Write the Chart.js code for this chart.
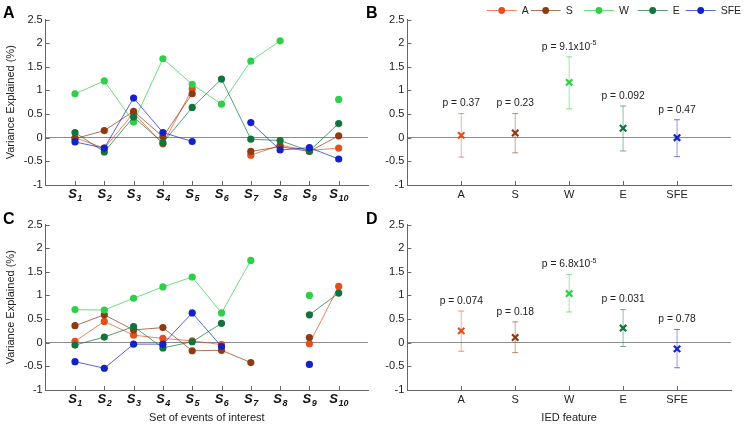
<!DOCTYPE html>
<html>
<head>
<meta charset="utf-8">
<script src="https://cdn.jsdelivr.net/npm/chart.js@4.4.0/dist/chart.umd.min.js"></script>
<style>
body{margin:0;background:#fff;width:744px;height:424px;position:relative;overflow:hidden;font-family:"Liberation Sans",Arial,sans-serif}
canvas{position:absolute}
.tag{position:absolute;font-weight:bold;font-size:16px;line-height:16px;color:#000}
</style>
</head>
<body>
<canvas id="pA" width="372" height="205" style="left:0;top:0"></canvas>
<canvas id="pB" width="372" height="205" style="left:372px;top:0"></canvas>
<canvas id="pC" width="372" height="219" style="left:0;top:205px"></canvas>
<canvas id="pD" width="372" height="219" style="left:372px;top:205px"></canvas>
<div class="tag" style="left:3px;top:5px">A</div>
<div class="tag" style="left:366px;top:5px">B</div>
<div class="tag" style="left:3px;top:211px">C</div>
<div class="tag" style="left:366px;top:211px">D</div>
<script>
/* data */
const features = ["A","S","W","E","SFE"];
const setNums = ["1","2","3","4","5","6","7","8","9","10"];
const colors = ["#e4501c","#8c3b12","#2fcf4a","#12733d","#1222c8"];

// panel A
const aA   = [0.00,-0.22,0.52,-0.13,1.03,null,-0.37,-0.16,-0.27,-0.22];
const aS   = [-0.02,0.15,0.56,0.02,0.93,null,-0.29,-0.19,-0.29,0.04];
const aW   = [0.93,1.20,0.33,1.67,1.13,0.71,1.62,2.05,null,0.81];
const aE   = [0.11,-0.30,0.44,-0.11,0.64,1.24,-0.03,-0.06,-0.28,0.30];
const aSFE = [-0.09,-0.22,0.84,0.11,-0.08,null,0.32,-0.26,-0.21,-0.45];

// panel C
const cA   = [0.03,0.45,0.16,0.09,0.04,-0.04,null,null,-0.02,1.19];
const cS   = [0.36,0.59,0.27,0.32,-0.17,-0.16,-0.42,null,0.11,null];
const cW   = [0.70,0.69,0.94,1.18,1.39,0.63,1.74,null,1.00,null];
const cE   = [-0.05,0.12,0.34,-0.11,0.02,0.41,null,null,0.59,1.05];
const cSFE = [-0.40,-0.54,-0.03,-0.03,0.63,-0.08,null,null,-0.46,null];

// panel B
const bMean = [0.05,0.10,1.17,0.20,0.00];
const bLow  = [-0.41,-0.32,0.61,-0.28,-0.40];
const bHigh = [0.51,0.51,1.71,0.67,0.38];
const bP    = ["0.37","0.23","9.1x10^-5","0.092","0.47"];

// panel D
const dMean = [0.25,0.11,1.04,0.31,-0.13];
const dLow  = [-0.18,-0.21,0.65,-0.08,-0.53];
const dHigh = [0.67,0.44,1.44,0.70,0.28];
const dP    = ["0.074","0.18","6.8x10^-5","0.031","0.78"];

const FONT = '"Liberation Sans", Arial, sans-serif';
const axisColor = "#666";
const txtColor = "#222";

function rgba(hex,a){
  const n=parseInt(hex.slice(1),16);
  return `rgba(${n>>16},${(n>>8)&255},${n&255},${a})`;
}

/* inward tick marks, MATLAB style */
function axisMarks(n){
  return {
    id:"axisMarks",
    afterDatasetsDraw(chart){
      const {ctx,chartArea:a,scales:{x,y}}=chart;
      ctx.save();
      ctx.strokeStyle=axisColor; ctx.lineWidth=1;
      ctx.beginPath();
      y.ticks.forEach(t=>{
        const py=Math.round(y.getPixelForValue(t.value))+0.5;
        ctx.moveTo(a.left,py); ctx.lineTo(a.left+4,py);
      });
      for(let i=1;i<=n;i++){
        const px=Math.round(x.getPixelForValue(i))+0.5;
        ctx.moveTo(px,a.bottom); ctx.lineTo(px,a.bottom-4);
      }
      ctx.stroke();
      ctx.restore();
    }
  };
}

/* S with subscript under each set */
const setLabels={
  id:"setLabels",
  afterDraw(chart){
    const {ctx,chartArea:a,scales:{x}}=chart;
    ctx.save();
    ctx.fillStyle="#111"; ctx.textAlign="left"; ctx.textBaseline="alphabetic";
    setNums.forEach((n,i)=>{
      const px=x.getPixelForValue(i+1);
      ctx.font=`italic bold 13px ${FONT}`;
      const w1=ctx.measureText("S").width;
      ctx.font=`italic bold 9px ${FONT}`;
      const w2=ctx.measureText(n).width;
      const sx=px-(w1+w2)/2;
      ctx.font=`italic bold 13px ${FONT}`;
      ctx.fillText("S",sx,a.bottom+13);
      ctx.font=`italic bold 9px ${FONT}`;
      ctx.fillText(n,sx+w1+0.5,a.bottom+15.5);
    });
    ctx.restore();
  }
};

/* p values above the error bars */
function pLabels(high,p){
  return {
    id:"pLabels",
    afterDatasetsDraw(chart){
      const {ctx,scales:{x,y}}=chart;
      ctx.save();
      ctx.fillStyle=txtColor; ctx.textAlign="left"; ctx.textBaseline="middle";
      p.forEach((s,i)=>{
        const [base,exp]=s.split("^");
        const txt="p = "+base;
        ctx.font=`10.3px ${FONT}`;
        const w1=ctx.measureText(txt).width;
        ctx.font=`7px ${FONT}`;
        const w2=exp?ctx.measureText(exp).width:0;
        const px=x.getPixelForValue(i+1);
        const py=y.getPixelForValue(high[i])-10;
        const sx=px-(w1+w2)/2;
        ctx.font=`10.3px ${FONT}`;
        ctx.fillText(txt,sx,py);
        if(exp){ ctx.font=`7px ${FONT}`; ctx.fillText(exp,sx+w1,py-4); }
      });
      ctx.restore();
    }
  };
}

/* legend drawn in panel B */
const legendX=[114.7,158.7,212,265.7,313.7];
const seriesLegend={
  id:"seriesLegend",
  afterDraw(chart){
    const ctx=chart.ctx;
    ctx.save();
    ctx.textAlign="left"; ctx.textBaseline="middle"; ctx.font=`10.5px ${FONT}`;
    features.forEach((f,k)=>{
      const x0=legendX[k], y0=10;
      ctx.strokeStyle=rgba(colors[k],0.7); ctx.lineWidth=1;
      ctx.beginPath(); ctx.moveTo(x0,y0+0.5); ctx.lineTo(x0+30,y0+0.5); ctx.stroke();
      ctx.fillStyle=colors[k];
      ctx.beginPath(); ctx.arc(x0+15,y0+0.5,3.4,0,Math.PI*2); ctx.fill();
      ctx.fillStyle=txtColor;
      ctx.fillText(f,x0+35,y0+1);
    });
    ctx.restore();
  }
};

function yScale(width,title){
  return {
    min:-1,max:2.5,
    ticks:{stepSize:0.5,color:txtColor,font:{size:11,family:FONT},padding:3,
      callback:v=>String(Math.round(v*10)/10)},
    grid:{drawTicks:false,lineWidth:1,color:c=>c.tick&&c.tick.value===0?"#8c8c8c":"rgba(0,0,0,0)"},
    border:{color:axisColor,width:1},
    title:{display:!!title,text:title||"",color:txtColor,font:{size:11,family:FONT},padding:{top:4,bottom:0}},
    afterFit:s=>{s.width=width;}
  };
}

function seriesChart(id,vals,xTitle,xHeight){
  return new Chart(document.getElementById(id),{
    type:"line",
    data:{
      datasets:features.map((f,k)=>({
        label:f,
        data:vals[k].map((v,i)=>({x:i+1,y:v})),
        borderColor:rgba(colors[k],0.7),
        borderWidth:1,
        pointRadius:3.6,
        pointBackgroundColor:colors[k],
        pointBorderWidth:0,
        order:5-k
      }))
    },
    options:{
      responsive:false,animation:false,
      layout:{padding:{top:19.5,right:2,left:0,bottom:0}},
      plugins:{legend:{display:false},tooltip:{enabled:false}},
      scales:{
        x:{
          type:"linear",min:0,max:11,
          ticks:{display:false,stepSize:1},
          grid:{drawTicks:false,color:"rgba(0,0,0,0)"},
          border:{color:axisColor,width:1},
          title:{display:!!xTitle,text:xTitle||"",color:txtColor,font:{size:11,family:FONT},padding:{top:0,bottom:-0.5}},
          afterFit:s=>{s.height=xHeight;}
        },
        y:yScale(45.7,"Variance Explained (%)")
      }
    },
    plugins:[axisMarks(10),setLabels]
  });
}

function errorChart(id,mean,low,high,p,xTitle,xHeight,extra){
  const bars=features.map((f,k)=>({
    type:"line",
    data:[{x:k+1,y:low[k]},{x:k+1,y:high[k]}],
    borderColor:rgba(colors[k],0.45),
    borderWidth:1,
    pointStyle:"line",
    pointRadius:3,
    pointBorderColor:rgba(colors[k],0.6),
    pointBorderWidth:1,
    order:2
  }));
  const marks={
    type:"scatter",
    data:mean.map((v,k)=>({x:k+1,y:v})),
    pointStyle:"crossRot",
    pointRadius:4.5,
    pointBorderWidth:2.2,
    pointBorderColor:colors,
    pointBackgroundColor:colors,
    order:1
  };
  return new Chart(document.getElementById(id),{
    type:"scatter",
    data:{datasets:[...bars,marks]},
    options:{
      responsive:false,animation:false,
      layout:{padding:{top:19.5,right:13,left:0,bottom:0}},
      plugins:{legend:{display:false},tooltip:{enabled:false}},
      scales:{
        x:{
          type:"linear",min:0,max:6,
          ticks:{stepSize:1,autoSkip:false,maxRotation:0,color:txtColor,font:{size:11,family:FONT},padding:3,
            callback:v=>(v>=1&&v<=5)?features[v-1]:""},
          grid:{drawTicks:false,color:"rgba(0,0,0,0)"},
          border:{color:axisColor,width:1},
          title:{display:!!xTitle,text:xTitle||"",color:txtColor,font:{size:11,family:FONT},padding:{top:0,bottom:-0.5}},
          afterFit:s=>{s.height=xHeight;}
        },
        y:yScale(35.3,"")
      }
    },
    plugins:[axisMarks(5),pLabels(high,p)].concat(extra||[])
  });
}

seriesChart("pA",[aA,aS,aW,aE,aSFE],"",20);
seriesChart("pC",[cA,cS,cW,cE,cSFE],"Set of events of interest",34);
errorChart("pB",bMean,bLow,bHigh,bP,"",20,[seriesLegend]);
errorChart("pD",dMean,dLow,dHigh,dP,"IED feature",34);
</script>
</body>
</html>
